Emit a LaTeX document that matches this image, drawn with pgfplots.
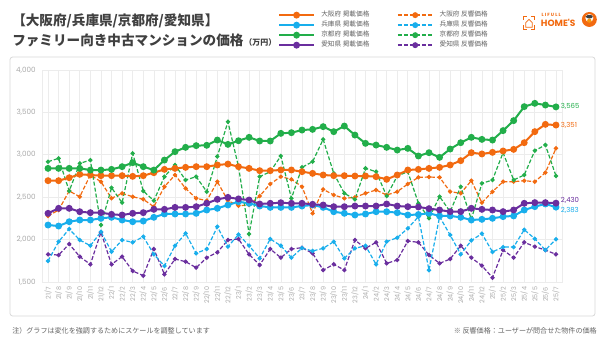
\documentclass[border=0pt]{standalone}
\usepackage{fontspec}
\setmainfont{Noto Sans CJK JP}
\newfontfamily\pop{Poppins}
\newfontfamily\popls[LetterSpace=25]{Poppins}
\usepackage{pgfplots}
\usepackage{pgfplotstable}
\pgfplotsset{compat=1.18}
\definecolor{cO}{RGB}{242,106,16}
\definecolor{cB}{RGB}{24,174,236}
\definecolor{cG}{RGB}{34,174,74}
\definecolor{cP}{RGB}{106,46,158}
\definecolor{titlegray}{RGB}{64,64,64}
\definecolor{txtgray}{RGB}{100,100,100}
\definecolor{tickgray}{RGB}{170,170,170}
\definecolor{gridgray}{RGB}{236,236,236}
\definecolor{panelgray}{RGB}{218,218,218}

\pgfplotstableread{
i op hp kp ap or hr kr ar
0 2695 2172 2840 2310 2278 1748 2919 1826
1 2695 2160 2840 2369 2349 1976 2958 1818
2 2730 2211 2840 2369 2573 2125 2573 1948
3 2770 2231 2840 2329 2506 1995 2899 1799
4 2762 2231 2820 2318 2762 1928 2938 1708
5 2754 2251 2820 2318 2683 2093 2172 2086
6 2754 2263 2828 2298 2487 1858 2612 1708
7 2754 2231 2860 2290 2545 1995 2435 1799
8 2746 2211 2907 2310 2506 1968 3017 1630
9 2754 2219 2860 2318 2475 2035 2573 1575
10 2789 2263 2820 2357 2388 1826 2459 1889
11 2828 2302 2938 2357 2624 1689 2742 1590
12 2840 2302 3037 2380 2762 1928 2880 1771
13 2852 2302 3088 2380 2604 2074 2703 1740
14 2860 2310 3108 2388 2487 1838 2742 1669
15 2860 2349 3112 2428 2459 1889 2565 1787
16 2880 2369 3174 2475 2683 2152 2980 1850
17 2891 2408 3123 2498 2459 1917 3390 1995
18 2860 2447 3166 2480 2400 2060 2860 2007
19 2840 2428 3206 2467 2408 1928 2066 1826
20 2813 2396 3163 2420 2514 1779 2742 1700
21 2813 2380 3163 2428 2656 2007 2801 1889
22 2821 2380 3253 2435 2742 1928 2986 1787
23 2821 2380 3261 2428 2711 1787 2487 1889
24 2801 2396 3292 2428 2624 1900 2852 1905
25 2781 2408 3300 2416 2310 1866 2919 1838
26 2762 2380 3332 2408 2593 1897 3182 1641
27 2754 2329 3273 2388 2526 1976 2781 1708
28 2754 2310 3339 2388 2487 1779 2546 1641
29 2750 2290 3233 2396 2498 1897 2475 1995
30 2750 2302 3135 2396 2546 1928 2840 1897
31 2742 2329 3115 2396 2585 1708 2801 1968
32 2711 2329 3088 2420 2526 1976 2514 1720
33 2762 2318 3056 2396 2565 2023 2750 1759
34 2821 2290 3076 2388 2656 2133 2801 1983
35 2828 2296 2986 2385 2734 2270 2428 1968
36 2840 2310 3025 2365 2738 1640 2251 1818
37 2852 2279 2970 2349 2734 2270 2507 1720
38 2880 2279 3068 2330 2565 2054 2330 1771
39 2931 2263 3143 2330 2546 1826 2624 1928
40 3025 2231 3206 2369 2695 1990 2240 1787
41 3010 2239 3182 2357 2436 2070 2663 1693
42 3029 2251 3174 2349 2565 1855 2703 1551
43 3045 2271 3285 2330 2683 1912 3025 1877
44 3064 2279 3403 2349 2683 1912 2703 1787
45 3143 2349 3568 2428 2695 2117 2762 1968
46 3273 2389 3607 2436 2683 2010 3049 1917
47 3359 2420 3587 2436 2790 1877 3116 1877
48 3351 2383 3565 2430 3076 2005 2750 1826
}\data

\pgfplotsset{
  solidS/.style={line width=1.5pt, mark=*, mark size=1.8pt, mark options={solid}},
  dashS/.style={line width=0.9pt, dash pattern=on 3pt off 1.5pt, mark=*, mark size=1.15pt, mark options={solid}},
  dashL/.style={line width=1pt, dash pattern=on 3pt off 1.5pt, mark=*, mark size=1.7pt, mark options={solid}},
}

\begin{document}
\begin{tikzpicture}
\path[use as bounding box] (0,0) rectangle (453.75pt,255pt);
\fill[white] (0,0) rectangle (453.75pt,255pt);
\draw[panelgray, line width=0.6pt, rounded corners=2pt] (7.5pt,18pt) rectangle (446.25pt,212.25pt);

% titles
\node[anchor=west, inner sep=0pt, text=titlegray, font=\fontsize{10.2}{12}\selectfont\bfseries] at (9pt,239.25pt) {【大阪府/兵庫県/京都府/愛知県】};
\node[anchor=west, inner sep=0pt, text=titlegray, font=\fontsize{10.2}{12}\selectfont\bfseries] at (9pt,225pt) {ファミリー向き中古マンションの価格};
\node[anchor=west, inner sep=0pt, text=titlegray, font=\fontsize{6}{7}\selectfont\bfseries] at (183pt,223.5pt) {（万円）};

% logo
\begin{scope}[cO]
  \draw[line width=0.5pt] (392.5pt,240pt) -- (392.5pt,243pt) -- (395pt,243pt);
  \draw[line width=0.5pt] (398.5pt,243pt) -- (401pt,243pt) -- (401pt,240pt);
  \draw[line width=0.5pt] (392.5pt,236pt) -- (392.5pt,233pt) -- (395pt,233pt);
  \draw[line width=0.5pt] (398.5pt,233pt) -- (401pt,233pt) -- (401pt,236pt);
  \draw[line width=0.5pt] (394.3pt,234.5pt) -- (394.3pt,238pt) -- (396.75pt,240.5pt) -- (399.2pt,238pt) -- (399.2pt,234.5pt) -- cycle;
  \node[anchor=west, inner sep=0pt, font=\fontsize{3.4}{4}\selectfont\popls\bfseries] at (406pt,243.5pt) {LIFULL};
  \node[anchor=west, inner sep=0pt, font=\fontsize{6.8}{8}\selectfont\pop\bfseries] at (405.5pt,238pt) {HOME'S};
  \fill (442pt,240.4pt) circle (5.6pt);
\end{scope}
\fill[white] (442pt,241.5pt) circle (3pt);
\fill[titlegray] (442pt,242.5pt) ellipse (2.6pt and 1.4pt);
\fill[cO!70!yellow] (442pt,239.5pt) circle (1.6pt);

% footnotes
\node[anchor=west, inner sep=0pt, text=txtgray, font=\fontsize{5.3}{6}\selectfont] at (9pt,6.75pt) {注）グラフは変化を強調するためにスケールを調整しています};
\node[anchor=east, inner sep=0pt, text=txtgray, font=\fontsize{5.3}{6}\selectfont] at (447.75pt,6.75pt) {※ 反響価格：ユーザーが問合せた物件の価格};

\begin{axis}[
  at={(31.5pt,43.5pt)}, anchor=south west,
  scale only axis, width=390pt, height=159pt,
  xmin=-0.57, xmax=48.57, ymin=1500, ymax=4000,
  ytick={1500,2000,2500,3000,3500,4000},
  xtick={0,...,48},
  xticklabels={21/7,21/8,21/9,21/10,21/11,21/12,22/1,22/2,22/3,22/4,22/5,22/6,22/7,22/8,22/9,22/10,22/11,22/12,23/1,23/2,23/3,23/4,23/5,23/6,23/7,23/8,23/9,23/10,23/11,23/12,24/1,24/2,24/3,24/4,24/5,24/6,24/7,24/8,24/9,24/10,24/11,24/12,25/1,25/2,25/3,25/4,25/5,25/6,25/7},
  grid=major,
  major grid style={gridgray, line width=0.5pt},
  axis line style={gridgray, line width=0.5pt},
  major tick length=0pt,
  /pgf/number format/assume math mode=true,
  /pgf/number format/1000 sep={,},
  tick label style={text=tickgray, font=\fontsize{5.4}{6}\selectfont\pop},
  yticklabel style={inner sep=0pt, xshift=-4.5pt},
  xticklabel style={inner sep=0pt, yshift=-3.5pt, rotate=90, anchor=east, font=\fontsize{4.8}{6}\selectfont\pop},
  legend columns=4, transpose legend,
  legend cell align=left,
  legend style={at={(0.4538,1.283)}, anchor=north west, draw=none, fill=none,
    inner sep=0pt, text=txtgray, font=\fontsize{5}{6}\selectfont,
    nodes={inner sep=0.8pt},
    row sep=0.2pt,
    /tikz/every odd column/.append style={column sep=4pt},
    /tikz/every even column/.append style={column sep=20pt}},
  legend image code/.code={\draw[mark repeat=2,mark phase=2] plot coordinates {(0pt,0pt) (13pt,0pt) (26pt,0pt)};},
  clip=false,
]
\addplot[cP, dashS, forget plot] table[x=i,y=ar]{\data};
\addplot[cB, dashS, forget plot] table[x=i,y=hr]{\data};
\addplot[cO, dashS, forget plot] table[x=i,y=or]{\data};
\addplot[cG, dashS, forget plot] table[x=i,y=kr]{\data};
\addplot[cB, solidS, forget plot] table[x=i,y=hp]{\data};
\addplot[cP, solidS, forget plot] table[x=i,y=ap]{\data};
\addplot[cO, solidS, forget plot] table[x=i,y=op]{\data};
\addplot[cG, solidS, forget plot] table[x=i,y=kp]{\data};

\addlegendimage{cO, solidS}\addlegendentry{大阪府 掲載価格}
\addlegendimage{cB, solidS}\addlegendentry{兵庫県 掲載価格}
\addlegendimage{cG, solidS}\addlegendentry{京都府 掲載価格}
\addlegendimage{cP, solidS}\addlegendentry{愛知県 掲載価格}
\addlegendimage{cO, dashL}\addlegendentry{大阪府 反響価格}
\addlegendimage{cB, dashL}\addlegendentry{兵庫県 反響価格}
\addlegendimage{cG, dashL}\addlegendentry{京都府 反響価格}
\addlegendimage{cP, dashL}\addlegendentry{愛知県 反響価格}

\node[anchor=west, inner sep=0pt, text=cG, font=\fontsize{5.2}{6}\selectfont\pop] at (axis cs:48,3565) [xshift=3.5pt] {3,565};
\node[anchor=west, inner sep=0pt, text=cO, font=\fontsize{5.2}{6}\selectfont\pop] at (axis cs:48,3351) [xshift=3.5pt, yshift=-0.5pt] {3,351};
\node[anchor=west, inner sep=0pt, text=cP, font=\fontsize{5.2}{6}\selectfont\pop] at (axis cs:48,2430) [xshift=3.5pt, yshift=2pt] {2,430};
\node[anchor=west, inner sep=0pt, text=cB, font=\fontsize{5.2}{6}\selectfont\pop] at (axis cs:48,2383) [xshift=3.5pt, yshift=-2.3pt] {2,383};
\end{axis}
\end{tikzpicture}
\end{document}
